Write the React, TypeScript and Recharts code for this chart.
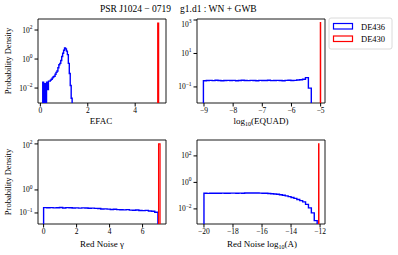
import React from "react";
import { ComposedChart, Line, XAxis, YAxis, ReferenceArea } from "recharts";

const FONT = "'Liberation Serif', 'DejaVu Serif', serif";
const FLOOR = 1e-8;

// EFAC posterior (DE436), bins of 0.04 starting at 0.10
const efacStart = 0.1;
const efacWidth = 0.04;
const efacBlue = [
  0.025, 0, 0.02, 0, 0.025, 0.008, 0.03, 0.03, 0.035, 0.04, 0.05, 0.06, 0.065, 0.09, 0.12, 0.15,
  0.25, 0.4, 0.5, 0.8, 1.5, 2.5, 4.0, 5.8, 5.0, 3.5, 2.0, 0.5, 0.1, 0.015, 0.002,
];
const efacRed = { start: 4.95, width: 0.04, values: [300] };

// log10(EQUAD), bins of 0.1 starting at -9.02
const equadStart = -9.02;
const equadWidth = 0.1;
const equadBlue = [
  0.235, 0.24, 0.245, 0.238, 0.25, 0.243, 0.236, 0.242, 0.248, 0.24, 0.245, 0.236, 0.243, 0.25,
  0.24, 0.238, 0.246, 0.242, 0.235, 0.248, 0.24, 0.244, 0.252, 0.238, 0.242, 0.246, 0.24, 0.236,
  0.245, 0.25, 0.241, 0.247, 0.26, 0.27, 0.29, 0.36, 0.085,
];
const equadRed = { start: -5.01, width: 0.01, values: [700] };

// red noise gamma
const gammaStart = 0;
const gammaWidth = 0.1925;
const gammaBlue = [
  0.17, 0.168, 0.17, 0.166, 0.169, 0.172, 0.165, 0.17, 0.168, 0.164, 0.167, 0.162, 0.166, 0.163,
  0.16, 0.162, 0.158, 0.155, 0.148, 0.15, 0.146, 0.142, 0.145, 0.14, 0.138, 0.136, 0.139, 0.133,
  0.131, 0.134, 0.128, 0.126, 0.129, 0.122, 0.118, 0.108,
];
const gammaRed = { start: 6.97, width: 0.09, values: [100] };

// red noise log10(A)
const ampStart = -20;
const ampWidth = 0.2;
const ampBlue = [
  0.15, 0.148, 0.152, 0.15, 0.153, 0.151, 0.154, 0.15, 0.152, 0.156, 0.154, 0.153, 0.155, 0.151,
  0.158, 0.16, 0.159, 0.16, 0.158, 0.155, 0.15, 0.153, 0.146, 0.14, 0.134, 0.126, 0.117, 0.107,
  0.096, 0.085, 0.073, 0.062, 0.051, 0.042, 0.034, 0.022, 0.012, 0.005, 0.0013,
];
const ampRed = { start: -12.1, width: 0.02, values: [800] };

type Pt = { x: number; y: number };

// matplotlib "step" histogram outline
function steps(start: number, width: number, values: number[]): Pt[] {
  const pts: Pt[] = [{ x: start, y: FLOOR }];
  values.forEach((v, i) => {
    const y = v > 0 ? v : FLOOR;
    pts.push({ x: start + i * width, y });
    pts.push({ x: start + (i + 1) * width, y });
  });
  pts.push({ x: start + values.length * width, y: FLOOR });
  return pts;
}

const fmtX = (v: number) => (v < 0 ? "\u2212" + Math.abs(v) : String(v));

function LogTick(props: any) {
  const { x, y, payload } = props;
  const e = Math.round(Math.log10(payload.value));
  const s = e < 0 ? "\u2212" + Math.abs(e) : String(e);
  return (
    <text x={x} y={y} dy={2.5} textAnchor="end" fontSize={7.5} fontFamily={FONT} fill="#000">
      10
      <tspan dy={-3.5} fontSize={5.5}>
        {s}
      </tspan>
    </text>
  );
}

type PanelProps = {
  left: number;
  top: number;
  xDomain: [number, number];
  xTicks: number[];
  yDomain: [number, number];
  yTicks: number[];
  blue: Pt[];
  red: Pt[];
};

const YW = 36;
const MT = 4;

function Panel({ left, top, xDomain, xTicks, yDomain, yTicks, blue, red }: PanelProps) {
  return (
    <div style={{ position: "absolute", left: left - YW, top: top - MT }}>
      <ComposedChart width={YW + 128 + 4} height={MT + 84 + 20} margin={{ top: MT, right: 4, bottom: 0, left: 0 }}>
        <XAxis
          type="number"
          dataKey="x"
          domain={xDomain}
          ticks={xTicks}
          allowDataOverflow
          tickFormatter={fmtX}
          tickSize={3.5}
          tickMargin={1.5}
          axisLine={false}
          stroke="#000"
          height={20}
          tick={{ fontSize: 7.5, fill: "#000", fontFamily: FONT }}
        />
        <YAxis
          type="number"
          scale="log"
          domain={yDomain}
          ticks={yTicks}
          allowDataOverflow
          width={YW}
          tickSize={3.5}
          axisLine={false}
          stroke="#000"
          tick={<LogTick />}
        />
        <Line data={blue} dataKey="y" type="linear" stroke="#0000ff" strokeWidth={1.4} dot={false} isAnimationActive={false} />
        <Line data={red} dataKey="y" type="linear" stroke="#ff0000" strokeWidth={1.2} dot={false} isAnimationActive={false} />
        <ReferenceArea
          x1={xDomain[0]}
          x2={xDomain[1]}
          y1={yDomain[0]}
          y2={yDomain[1]}
          fill="none"
          stroke="#000"
          strokeWidth={0.9}
        />
      </ComposedChart>
    </div>
  );
}

export default function App() {
  return (
    <div style={{ position: "absolute", left: 0, top: 0, width: 398, height: 255, background: "#fff" }}>
      <Panel
        left={38}
        top={19}
        xDomain={[-0.1, 5.3]}
        xTicks={[0, 2, 4]}
        yDomain={[Math.pow(10, -3.03), Math.pow(10, 2.76)]}
        yTicks={[0.01, 1, 100]}
        blue={steps(efacStart, efacWidth, efacBlue)}
        red={steps(efacRed.start, efacRed.width, efacRed.values)}
      />
      <Panel
        left={197}
        top={19}
        xDomain={[-9.24, -4.85]}
        xTicks={[-9, -8, -7, -6, -5]}
        yDomain={[Math.pow(10, -1.96), Math.pow(10, 3.06)]}
        yTicks={[0.1, 1, 10, 100, 1000]}
        blue={steps(equadStart, equadWidth, equadBlue)}
        red={steps(equadRed.start, equadRed.width, equadRed.values)}
      />
      <Panel
        left={38}
        top={140}
        xDomain={[-0.34, 7.42]}
        xTicks={[0, 2, 4, 6]}
        yDomain={[Math.pow(10, -1.48), Math.pow(10, 2.17)]}
        yTicks={[0.1, 1, 10, 100]}
        blue={steps(gammaStart, gammaWidth, gammaBlue)}
        red={steps(gammaRed.start, gammaRed.width, gammaRed.values)}
      />
      <Panel
        left={197}
        top={140}
        xDomain={[-20.48, -11.66]}
        xTicks={[-20, -18, -16, -14, -12]}
        yDomain={[Math.pow(10, -3.14), Math.pow(10, 3.2)]}
        yTicks={[0.01, 1, 100]}
        blue={steps(ampStart, ampWidth, ampBlue)}
        red={steps(ampRed.start, ampRed.width, ampRed.values)}
      />
      <svg
        width={398}
        height={255}
        style={{ position: "absolute", left: 0, top: 0, pointerEvents: "none" }}
        fontFamily={FONT}
        fill="#000"
      >
        <text x={100} y={11.5} fontSize={9.5}>PSR J1024 {"\u2212"} 0719</text>
        <text x={180} y={11.5} fontSize={9.5}>g1.d1 : WN + GWB</text>

        <text x={101} y={124} fontSize={9} textAnchor="middle">EFAC</text>
        <text x={261} y={124} fontSize={9} textAnchor="middle">
          log<tspan dy={2} fontSize={6}>10</tspan>
          <tspan dy={-2}>(EQUAD)</tspan>
        </text>
        <text x={102} y={247} fontSize={9} textAnchor="middle">Red Noise {"\u03b3"}</text>
        <text x={262} y={247} fontSize={9} textAnchor="middle">
          Red Noise  log<tspan dy={2} fontSize={6}>10</tspan>
          <tspan dy={-2}>(A)</tspan>
        </text>

        <text x={11} y={61} fontSize={8.5} textAnchor="middle" transform="rotate(-90 11 61)">Probability Density</text>
        <text x={11} y={182} fontSize={8.5} textAnchor="middle" transform="rotate(-90 11 182)">Probability Density</text>

        <rect x={329} y={18} width={63} height={31} rx={2} fill="#fff" stroke="#d0d0d0" strokeWidth={0.8} />
        <rect x={333.5} y={23.5} width={19} height={5.5} fill="none" stroke="#0000ff" strokeWidth={1.2} />
        <text x={361} y={29.5} fontSize={8.5}>DE436</text>
        <rect x={333.5} y={36} width={19} height={5.5} fill="none" stroke="#ff0000" strokeWidth={1.2} />
        <text x={361} y={42} fontSize={8.5}>DE430</text>
      </svg>
    </div>
  );
}
